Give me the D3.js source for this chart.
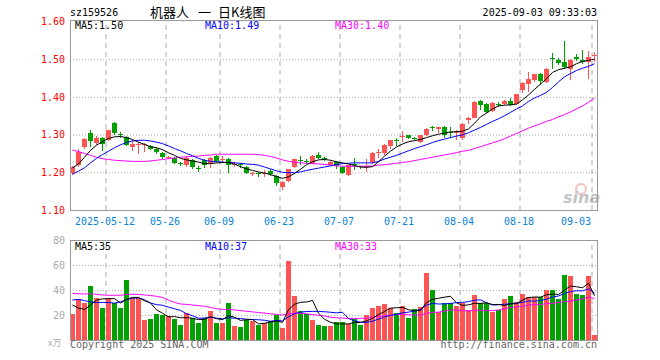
<!DOCTYPE html>
<html>
<head>
<meta charset="utf-8">
<script src="https://cdn.jsdelivr.net/npm/d3@7/dist/d3.min.js"></script>
<style>
body{margin:0;background:#fff}
svg{display:block}
text{font-family:"DejaVu Sans Mono",monospace;font-size:10px}
</style>
</head>
<body>
<svg id="chart" width="660" height="360"></svg>
<script>
//DATA
const dates = ["04-29","04-30","05-06","05-07","05-08","05-09","05-12","05-13","05-14","05-15","05-16","05-19","05-20","05-21","05-22","05-23","05-26","05-27","05-28","05-29","05-30","06-03","06-04","06-05","06-06","06-09","06-10","06-11","06-12","06-13","06-16","06-17","06-18","06-19","06-20","06-23","06-24","06-25","06-26","06-27","06-30","07-01","07-02","07-03","07-04","07-07","07-08","07-09","07-10","07-11","07-14","07-15","07-16","07-17","07-18","07-21","07-22","07-23","07-24","07-25","07-28","07-29","07-30","07-31","08-01","08-04","08-05","08-06","08-07","08-08","08-11","08-12","08-13","08-14","08-15","08-18","08-19","08-20","08-21","08-22","08-25","08-26","08-27","08-28","08-29","09-01","09-02","09-03"];

const open = [1.198,1.219,1.266,1.303,1.279,1.290,1.285,1.331,1.301,1.294,
  1.267,1.272,1.272,1.270,1.263,1.250,1.239,1.237,1.225,1.219,
  1.232,1.211,1.232,1.224,1.243,1.233,1.234,1.220,1.221,1.213,
  1.196,1.198,1.197,1.204,1.190,1.160,1.177,1.215,1.232,1.230,
  1.225,1.246,1.237,1.219,1.228,1.213,1.193,1.223,1.216,1.215,
  1.228,1.253,1.250,1.269,1.286,1.295,1.298,1.291,1.281,1.298,
  1.321,1.316,1.320,1.306,1.304,1.290,1.338,1.345,1.389,1.380,
  1.362,1.381,1.382,1.388,1.382,1.419,1.433,1.444,1.460,1.439,
  1.502,1.499,1.492,1.475,1.507,1.499,1.492,1.508];
const close = [1.214,1.253,1.288,1.283,1.292,1.276,1.312,1.303,1.299,1.272,
  1.276,1.274,1.275,1.261,1.254,1.240,1.241,1.225,1.223,1.239,
  1.213,1.209,1.219,1.237,1.230,1.235,1.219,1.222,1.219,1.199,
  1.198,1.196,1.199,1.196,1.171,1.175,1.208,1.234,1.229,1.228,
  1.243,1.237,1.235,1.228,1.216,1.199,1.219,1.221,1.214,1.217,
  1.250,1.255,1.272,1.285,1.284,1.297,1.292,1.289,1.298,1.316,
  1.319,1.320,1.298,1.304,1.306,1.329,1.345,1.387,1.378,1.360,
  1.384,1.379,1.388,1.378,1.407,1.437,1.448,1.460,1.442,1.475,
  1.500,1.490,1.479,1.499,1.501,1.492,1.507,1.510];
const high = [1.216,1.261,1.290,1.312,1.297,1.294,1.313,1.334,1.306,1.297,
  1.286,1.280,1.279,1.272,1.266,1.255,1.244,1.240,1.228,1.242,
  1.236,1.218,1.236,1.241,1.246,1.242,1.237,1.227,1.224,1.216,
  1.202,1.202,1.205,1.208,1.194,1.177,1.210,1.236,1.244,1.236,
  1.246,1.253,1.240,1.231,1.230,1.215,1.220,1.237,1.218,1.234,
  1.255,1.261,1.274,1.287,1.292,1.310,1.300,1.293,1.300,1.318,
  1.324,1.321,1.322,1.320,1.312,1.331,1.347,1.390,1.392,1.383,
  1.386,1.386,1.391,1.397,1.408,1.440,1.466,1.462,1.464,1.477,
  1.516,1.502,1.548,1.500,1.515,1.525,1.521,1.519];
const low = [1.193,1.213,1.263,1.266,1.273,1.257,1.283,1.298,1.291,1.270,
  1.257,1.248,1.255,1.258,1.248,1.236,1.236,1.222,1.218,1.215,
  1.208,1.200,1.212,1.211,1.228,1.227,1.197,1.215,1.212,1.196,
  1.190,1.188,1.188,1.190,1.163,1.153,1.174,1.212,1.219,1.222,
  1.222,1.234,1.229,1.216,1.210,1.195,1.190,1.206,1.208,1.201,
  1.222,1.237,1.247,1.262,1.269,1.281,1.288,1.285,1.279,1.296,
  1.310,1.305,1.290,1.290,1.285,1.287,1.329,1.343,1.366,1.357,
  1.360,1.373,1.378,1.375,1.378,1.410,1.413,1.440,1.432,1.436,
  1.475,1.484,1.474,1.444,1.495,1.488,1.447,1.492];

const ma5 = [1.212,1.222,1.240,1.258,1.272,1.281,1.290,1.294,1.295,1.292,
  1.287,1.280,1.274,1.268,1.265,1.260,1.252,1.245,1.237,1.233,
  1.230,1.227,1.223,1.223,1.225,1.226,1.226,1.222,1.215,1.209,
  1.205,1.201,1.198,1.194,1.189,1.184,1.188,1.197,1.208,1.220,
  1.228,1.233,1.234,1.232,1.228,1.225,1.222,1.218,1.214,1.213,
  1.215,1.228,1.243,1.256,1.267,1.275,1.281,1.284,1.287,1.292,
  1.297,1.301,1.304,1.307,1.308,1.309,1.315,1.330,1.347,1.357,
  1.368,1.376,1.378,1.379,1.381,1.392,1.405,1.420,1.434,1.448,
  1.465,1.472,1.476,1.480,1.488,1.494,1.497,1.500];
const ma10 = [1.195,1.203,1.212,1.225,1.237,1.247,1.256,1.265,1.273,1.279,
  1.283,1.285,1.285,1.283,1.280,1.276,1.270,1.263,1.257,1.250,
  1.244,1.237,1.232,1.229,1.228,1.227,1.226,1.225,1.224,1.222,
  1.221,1.219,1.214,1.209,1.204,1.200,1.199,1.199,1.201,1.205,
  1.208,1.211,1.214,1.217,1.221,1.223,1.224,1.225,1.225,1.225,
  1.225,1.229,1.235,1.240,1.245,1.251,1.257,1.263,1.268,1.273,
  1.279,1.284,1.288,1.292,1.296,1.299,1.305,1.312,1.319,1.327,
  1.335,1.342,1.350,1.359,1.368,1.376,1.388,1.397,1.404,1.412,
  1.425,1.440,1.453,1.462,1.470,1.476,1.481,1.488];
const ma30 = [1.259,1.255,1.250,1.245,1.240,1.236,1.234,1.232,1.231,1.230,
  1.229,1.229,1.229,1.230,1.232,1.234,1.236,1.238,1.240,1.241,
  1.242,1.243,1.245,1.246,1.248,1.248,1.248,1.248,1.248,1.248,
  1.248,1.247,1.245,1.242,1.238,1.233,1.229,1.227,1.225,1.224,
  1.223,1.222,1.221,1.219,1.217,1.216,1.216,1.216,1.216,1.216,
  1.217,1.219,1.220,1.222,1.224,1.226,1.228,1.231,1.234,1.237,
  1.240,1.243,1.246,1.249,1.252,1.256,1.258,1.263,1.268,1.273,
  1.278,1.283,1.289,1.296,1.303,1.310,1.317,1.323,1.329,1.335,
  1.340,1.347,1.353,1.360,1.368,1.376,1.386,1.397];

// volume in 万
const volume = [20.8,32.8,29.3,43.2,33.6,25.6,33.6,29.6,25.6,48.0,
  33.6,33.6,16.0,16.8,20.8,20.0,19.2,16.8,12.0,21.6,
  17.6,13.6,17.6,23.2,13.6,13.6,29.6,11.2,10.4,16.0,
  15.0,12.0,13.6,15.2,20.0,9.6,63.2,35.2,23.2,20.8,
  16.0,12.0,11.2,11.2,14.7,14.7,12.5,16.8,12.0,20.0,
  25.9,27.5,28.8,25.3,21.6,27.5,17.9,24.8,26.4,53.6,
  40.0,22.1,29.3,29.9,27.2,29.9,24.0,36.0,29.3,29.9,
  22.7,24.0,32.8,35.2,30.7,36.8,34.7,34.7,34.7,40.0,
  40.0,32.8,52.0,51.2,36.8,36.0,51.2,4.0];
const volMa5 = [28.0,25.5,24.5,28.0,31.9,32.9,33.1,33.1,29.6,32.5,
  34.1,34.1,31.4,29.6,24.2,21.4,18.6,18.7,17.8,17.9,
  17.4,16.3,16.5,18.7,17.1,16.3,19.5,18.2,15.7,16.2,
  16.4,12.9,13.4,14.4,15.2,14.1,24.3,28.6,30.2,30.4,
  31.7,21.4,16.6,14.2,13.0,12.8,12.9,14.0,14.1,15.2,
  17.4,20.4,22.8,25.5,25.8,26.1,24.2,23.4,23.6,30.0,
  32.5,33.4,34.3,35.0,29.7,27.7,28.1,29.4,29.3,29.8,
  28.4,28.4,27.7,28.9,29.1,31.9,34.0,34.4,34.3,36.2,
  36.8,36.4,39.9,43.2,42.6,41.8,45.4,35.4];
const volMa10 = [32.0,32.5,31.5,30.5,30.0,30.0,30.0,29.5,30.5,32.2,
  33.5,33.6,32.2,29.6,28.3,27.8,26.3,25.0,23.7,21.0,
  19.4,17.4,17.6,18.2,17.5,16.9,17.9,17.4,17.2,16.6,
  16.4,16.2,15.8,15.0,15.7,15.3,18.6,21.0,22.3,22.8,
  22.9,22.9,22.6,22.2,21.7,22.2,17.2,15.3,14.2,14.1,
  15.1,16.7,18.4,19.8,20.5,21.8,22.3,23.1,24.6,27.9,
  29.3,28.8,28.9,29.3,29.9,30.1,30.7,31.8,32.1,29.8,
  28.0,28.2,28.6,29.1,29.5,30.1,31.2,31.1,31.6,32.6,
  34.4,35.2,37.2,38.8,39.4,39.3,40.9,37.4];
const volMa30 = [37.3,37.0,36.8,37.0,36.5,36.0,35.8,35.8,35.8,36.5,
  36.6,36.5,36.0,35.6,35.0,34.0,32.0,30.0,28.8,28.5,
  28.0,27.5,27.0,26.0,25.0,24.5,24.5,24.0,23.5,23.0,
  22.5,22.0,21.5,21.0,20.5,20.0,21.0,21.5,21.3,21.0,
  20.3,19.8,19.2,18.2,17.8,17.5,17.3,17.3,17.3,17.5,
  18.3,18.8,19.3,19.8,20.3,20.5,20.2,20.0,20.0,21.3,
  22.1,22.3,23.0,24.0,24.0,23.5,23.2,23.8,23.8,23.5,
  23.5,24.0,25.0,26.0,26.5,27.0,28.0,28.3,28.5,29.0,
  29.3,30.0,30.8,31.2,32.0,32.8,34.5,33.2];

const tickDates = ["05-12","05-26","06-09","06-23","07-07","07-21","08-04","08-18","09-03"];
const tickLabels = ["2025-05-12","05-26","06-09","06-23","07-07","07-21","08-04","08-18","09-03"];
const priceTicks = [1.10,1.20,1.30,1.40,1.50,1.60];
const volTicks = [20,40,60,80];

//LAYOUT
const N = dates.length;
const left = 70, right = 597;
const pTop = 20, pBottom = 210;
const vTop = 240, vBottom = 340;
const RED = '#ff5454', GREEN = '#00a000';
const GRID = '#aaaaaa';

const svg = d3.select('#chart');

const x = d3.scaleBand().domain(dates).range([left, right]).paddingInner(1/6).paddingOuter(0);
const y = d3.scaleLinear().domain([1.10, 1.60]).range([210, 21.5]);
const yv = d3.scaleLinear().domain([0, 80]).range([340, 240]);
const cx = i => x(dates[i]) + 2.5;
const up = i => close[i] >= open[i];

//HEADER
svg.append('text').attr('x', 70).attr('y', 16).text('sz159526');
svg.append('text').attr('x', 150).attr('y', 17)
  .style('font-family', '"Noto Sans CJK SC",sans-serif').style('font-size', '13px')
  .text('机器人');
svg.append('text').attr('x', 198).attr('y', 17)
  .style('font-family', '"Noto Sans CJK SC",sans-serif').style('font-size', '13px')
  .text('一');
svg.append('text').attr('x', 218).attr('y', 17)
  .style('font-family', '"Noto Sans CJK SC",sans-serif').style('font-size', '13px')
  .text('日K线图');
svg.append('text').attr('x', 597).attr('y', 16).attr('text-anchor', 'end').text('2025-09-03 09:33:03');

//GRIDS
function hGrid(scale, ticks, top) {
  const ax = svg.append('g').attr('transform', `translate(${left},0)`)
    .call(d3.axisLeft(scale).tickValues(ticks).tickSize(-(right - left)).tickFormat(''));
  ax.select('.domain').remove();
  ax.selectAll('line').attr('stroke', GRID).attr('stroke-dasharray', '1,2');
}
hGrid(y, [1.20, 1.30, 1.40, 1.50]);
hGrid(yv, [20, 40, 60]);

function vGrid(top, bottom) {
  const ax = svg.append('g').attr('transform', `translate(-2.5,${bottom})`)
    .call(d3.axisBottom(x).tickValues(tickDates).tickSize(-(bottom - top)).tickFormat(''));
  ax.select('.domain').remove();
  ax.selectAll('line').attr('stroke', GRID).attr('stroke-dasharray', '5,4');
}
vGrid(pTop, pBottom);
vGrid(vTop, vBottom);

//AXIS LABELS
const yAxis = svg.append('g').attr('transform', `translate(${left},0)`)
  .call(d3.axisLeft(y).tickValues(priceTicks).tickSize(0).tickPadding(5).tickFormat(d3.format('.2f')));
yAxis.select('.domain').remove();
yAxis.selectAll('text').attr('fill', '#ff0000').style('font-size', '10px').style('font-family', '"DejaVu Sans Mono",monospace');

const vAxis = svg.append('g').attr('transform', `translate(${left},0)`)
  .call(d3.axisLeft(yv).tickValues(volTicks).tickSize(0).tickPadding(5));
vAxis.select('.domain').remove();
vAxis.selectAll('text').attr('fill', '#aaaaaa').style('font-size', '10px').style('font-family', '"DejaVu Sans Mono",monospace');

const xAxis = svg.append('g').attr('transform', `translate(-3.5,${pBottom})`)
  .call(d3.axisBottom(x).tickValues(tickDates).tickSize(0).tickPadding(8)
    .tickFormat(d => tickLabels[tickDates.indexOf(d)]));
xAxis.select('.domain').remove();
xAxis.selectAll('text').attr('fill', '#0a84d6').style('font-size', '10px').style('font-family', '"DejaVu Sans Mono",monospace');
xAxis.selectAll('.tick').filter(d => d === '09-03').select('text').attr('text-anchor', 'end');

//SINA WATERMARK
const wm = svg.append('g').attr('opacity', 0.35);
wm.append('circle').attr('cx', 581).attr('cy', 189).attr('r', 5).attr('fill', 'none').attr('stroke', '#e05050').attr('stroke-width', 2);
wm.append('text').attr('x', 563).attr('y', 203).style('font-family', '"DejaVu Sans",sans-serif')
  .style('font-size', '16px').style('font-weight', 'bold').style('font-style', 'italic').attr('fill', '#555').text('sina');

//CANDLES
const cg = svg.append('g').attr('shape-rendering', 'crispEdges');
cg.selectAll('.wick').data(d3.range(N)).join('rect').attr('class', 'wick')
  .attr('x', i => x(dates[i]) + 2).attr('width', 1)
  .attr('y', i => y(high[i])).attr('height', i => Math.max(1, y(low[i]) - y(high[i])))
  .attr('fill', i => up(i) ? RED : GREEN);
cg.selectAll('.body').data(d3.range(N)).join('rect').attr('class', 'body')
  .attr('x', i => x(dates[i])).attr('width', x.bandwidth())
  .attr('y', i => y(Math.max(open[i], close[i])))
  .attr('height', i => Math.max(1, Math.abs(y(open[i]) - y(close[i]))))
  .attr('fill', i => up(i) ? RED : GREEN);

//VOLUME BARS
cg.selectAll('.vol').data(d3.range(N)).join('rect').attr('class', 'vol')
  .attr('x', i => x(dates[i])).attr('width', x.bandwidth())
  .attr('y', i => yv(volume[i])).attr('height', i => yv(0) - yv(volume[i]))
  .attr('fill', i => up(i) ? RED : GREEN);

//MA LINES
function maLine(arr, scale, color) {
  svg.append('path').datum(d3.range(N))
    .attr('fill', 'none').attr('stroke', color).attr('stroke-width', 1)
    .attr('d', d3.line().x(cx).y(i => scale(arr[i])));
}
maLine(ma30, y, '#ff00ff');
maLine(ma10, y, '#0000ff');
maLine(ma5, y, '#000000');
maLine(volMa30, yv, '#ff00ff');
maLine(volMa10, yv, '#0000ff');
maLine(volMa5, yv, '#000000');

//BORDERS
svg.append('rect').attr('x', left + 0.5).attr('y', pTop + 0.5).attr('width', right - left).attr('height', pBottom - pTop)
  .attr('fill', 'none').attr('stroke', '#999');
svg.append('rect').attr('x', left + 0.5).attr('y', vTop + 0.5).attr('width', right - left).attr('height', vBottom - vTop)
  .attr('fill', 'none').attr('stroke', '#999');

//LEGENDS
const last = N - 1;
const legends = [
  {x: 75, y: 29, color: '#000000', text: 'MA5:' + ma5[last].toFixed(2)},
  {x: 205, y: 29, color: '#0000ff', text: 'MA10:' + ma10[last].toFixed(2)},
  {x: 335, y: 29, color: '#ff00ff', text: 'MA30:' + ma30[last].toFixed(2)},
  {x: 75, y: 250, color: '#000000', text: 'MA5:' + Math.floor(volMa5[last])},
  {x: 205, y: 250, color: '#0000ff', text: 'MA10:' + Math.floor(volMa10[last])},
  {x: 335, y: 250, color: '#ff00ff', text: 'MA30:' + Math.floor(volMa30[last])}
];
svg.selectAll('.legend').data(legends).join('text').attr('class', 'legend')
  .attr('x', d => d.x).attr('y', d => d.y).attr('fill', d => d.color).text(d => d.text);

//FOOTER
svg.append('text').attr('x', 48).attr('y', 346).attr('fill', '#aaaaaa')
  .style('font-family', '"Noto Sans CJK SC",serif').style('font-size', '9px').text('x万');
svg.append('text').attr('x', 70).attr('y', 348).attr('fill', '#666666').text('Copyright 2025 SINA.COM');
svg.append('text').attr('x', 597).attr('y', 348).attr('text-anchor', 'end').attr('fill', '#666666').text('http://finance.sina.com.cn');
</script>
</body>
</html>
